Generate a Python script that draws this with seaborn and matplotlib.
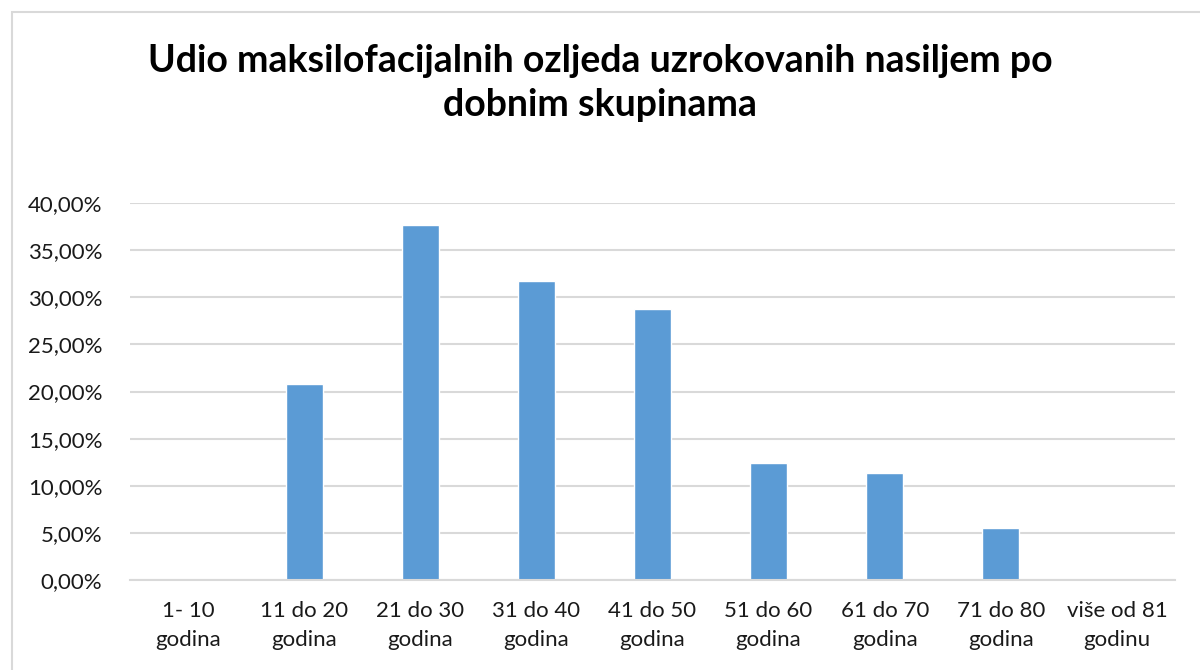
import matplotlib.pyplot as plt
import matplotlib.ticker as mticker
import seaborn as sns
import pandas as pd

categories = ["1- 10\ngodina", "11 do 20\ngodina", "21 do 30\ngodina", "31 do 40\ngodina",
              "41 do 50\ngodina", "51 do 60\ngodina", "61 do 70\ngodina", "71 do 80\ngodina",
              "više od 81\ngodinu"]
shares = [0.0, 20.8, 37.7, 31.7, 28.8, 12.4, 11.4, 5.5, 0.0]
y_ticks = [0, 5, 10, 15, 20, 25, 30, 35, 40]

df = pd.DataFrame({"dob": categories, "udio": shares})

sns.set_theme(style="white")
plt.rcParams["font.family"] = ["Lato", "DejaVu Sans"]

fig = plt.figure(figsize=(12, 6.7), dpi=100)
ax = fig.add_axes([130 / 1200, 1 - 580 / 670, 1045 / 1200, 377 / 670])

sns.barplot(data=df, x="dob", y="udio", color="#5B9BD5", width=0.32, saturation=1, ax=ax)

ax.set_ylim(0, 40)
ax.set_yticks(y_ticks)
ax.yaxis.set_major_formatter(mticker.FuncFormatter(lambda v, _: f"{v:.2f}%".replace(".", ",")))
ax.yaxis.grid(True, color="#D9D9D9", linewidth=1.5)
ax.set_axisbelow(True)
for s in ["top", "right", "left"]:
    ax.spines[s].set_visible(False)
ax.spines["bottom"].set_color("#D9D9D9")
ax.spines["bottom"].set_linewidth(1.5)
ax.tick_params(axis="both", length=0, labelsize=16, colors="#1a1a1a")
ax.tick_params(axis="y", pad=20)
ax.tick_params(axis="x", pad=15)
for lbl in ax.get_xticklabels():
    lbl.set_linespacing(1.6)
ax.set_xlabel("")
ax.set_ylabel("")

fig.text(0.5, 1 - 83 / 670, "Udio maksilofacijalnih ozljeda uzrokovanih nasiljem po\ndobnim skupinama",
         ha="center", va="center", fontsize=27, fontweight="bold", color="black", linespacing=1.35)

# light frame around the chart area
fig.patches.append(plt.Rectangle((12 / 1200, -0.1), 1.2, 1.1 - 12 / 670, transform=fig.transFigure,
                                 fill=False, edgecolor="#D9D9D9", linewidth=1.5))

fig.savefig("out.png", dpi=100)
